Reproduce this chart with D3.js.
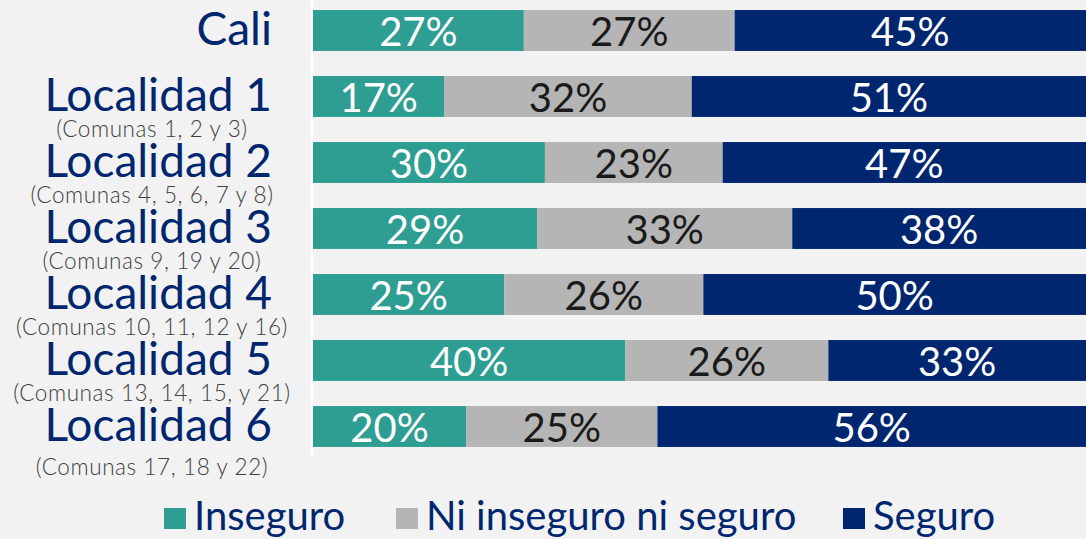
<!DOCTYPE html>
<html>
<head>
<meta charset="utf-8">
<script src="https://cdn.jsdelivr.net/npm/d3@7"></script>
<style>
  body { margin: 0; background: #f2f2f2; }
  svg { display: block; font-family: Lato, "Open Sans", sans-serif; }
</style>
</head>
<body>
<div id="chart"></div>
<script>
const width = 1086;
const height = 539;

const categories = ["Cali", "Localidad 1", "Localidad 2", "Localidad 3", "Localidad 4", "Localidad 5", "Localidad 6"];
const subLabels = ["", "(Comunas 1, 2 y 3)", "(Comunas 4, 5, 6, 7 y 8)", "(Comunas 9, 19 y 20)", "(Comunas 10, 11, 12 y 16)", "(Comunas 13, 14, 15, y 21)", "(Comunas 17, 18 y 22)"];
const inseguro = [27, 17, 30, 29, 25, 40, 20];
const niNi = [27, 32, 23, 33, 26, 26, 25];
const seguro = [45, 51, 47, 38, 50, 33, 56];
const seriesNames = ["Inseguro", "Ni inseguro ni seguro", "Seguro"];
const colors = ["#2e9d92", "#b5b5b5", "#00266f"];
const labelColors = ["#ffffff", "#1a1a1a", "#ffffff"];

main();

function main() {
  const rows = categories.map((c, i) => ({cat: c, sub: subLabels[i], Inseguro: inseguro[i], "Ni inseguro ni seguro": niNi[i], Seguro: seguro[i]}));
  // rows sum to 99-101 because of rounding, so each bar is spread to the full width
  const stacked = d3.stack().keys(seriesNames).offset(d3.stackOffsetExpand)(rows);

  const x = d3.scaleLinear().domain([0, 1]).range([313, 1086]);
  const y = d3.scaleBand().domain(categories).range([-2.5, 459.5]).paddingInner(0.38).paddingOuter(0.19);
  const color = d3.scaleOrdinal().domain(seriesNames).range(colors);

  const svg = d3.select("#chart").append("svg")
    .attr("width", width)
    .attr("height", height);

  svg.append("rect").attr("width", width).attr("height", height).attr("fill", "#f2f2f2");

  // axis line
  svg.append("line")
    .attr("x1", 312).attr("x2", 312)
    .attr("y1", 0).attr("y2", 458)
    .attr("stroke", "#ffffff").attr("stroke-width", 2);

  const groups = svg.selectAll("g.series").data(stacked).join("g")
    .attr("class", "series");

  groups.selectAll("rect").data(d => d.map(v => ({...v, key: d.key}))).join("rect")
    .attr("x", d => x(d[0]))
    .attr("y", d => y(d.data.cat))
    .attr("width", d => x(d[1]) - x(d[0]))
    .attr("height", y.bandwidth())
    .attr("fill", d => color(d.key));

  groups.selectAll("text").data((d, i) => d.map(v => ({...v, key: d.key, idx: i}))).join("text")
    .attr("x", d => (x(d[0]) + x(d[1])) / 2)
    .attr("y", d => y(d.data.cat) + y.bandwidth() / 2 + 15)
    .attr("text-anchor", "middle")
    .attr("font-size", 40)
    .attr("fill", d => labelColors[d.idx])
    .text(d => d.data[d.key] + "%");

  // category labels
  svg.selectAll("text.cat").data(rows).join("text")
    .attr("class", "cat")
    .attr("x", 272)
    .attr("y", d => y(d.cat) + y.bandwidth() / 2 + 14)
    .attr("text-anchor", "end")
    .attr("font-size", 46)
    .attr("fill", "#00266f")
    .text(d => d.cat);

  svg.selectAll("text.sub").data(rows.filter(d => d.sub)).join("text")
    .attr("class", "sub")
    .attr("x", 152)
    .attr("y", d => y(d.cat) + y.bandwidth() / 2 + (d.cat === "Localidad 6" ? 48 : 40))
    .attr("text-anchor", "middle")
    .attr("font-size", 22.5)
    .attr("font-weight", 300)
    .attr("letter-spacing", 0.6)
    .attr("fill", "#404040")
    .text(d => d.sub);

  // legend
  const legendX = [164, 396, 843];
  const legend = svg.selectAll("g.legend").data(seriesNames).join("g")
    .attr("class", "legend")
    .attr("transform", (d, i) => `translate(${legendX[i]},508)`);
  legend.append("rect")
    .attr("width", 22).attr("height", 21)
    .attr("fill", d => color(d));
  legend.append("text")
    .attr("x", 30).attr("y", 22)
    .attr("font-size", 40)
    .attr("fill", "#00266f")
    .text(d => d);
}
</script>
</body>
</html>
